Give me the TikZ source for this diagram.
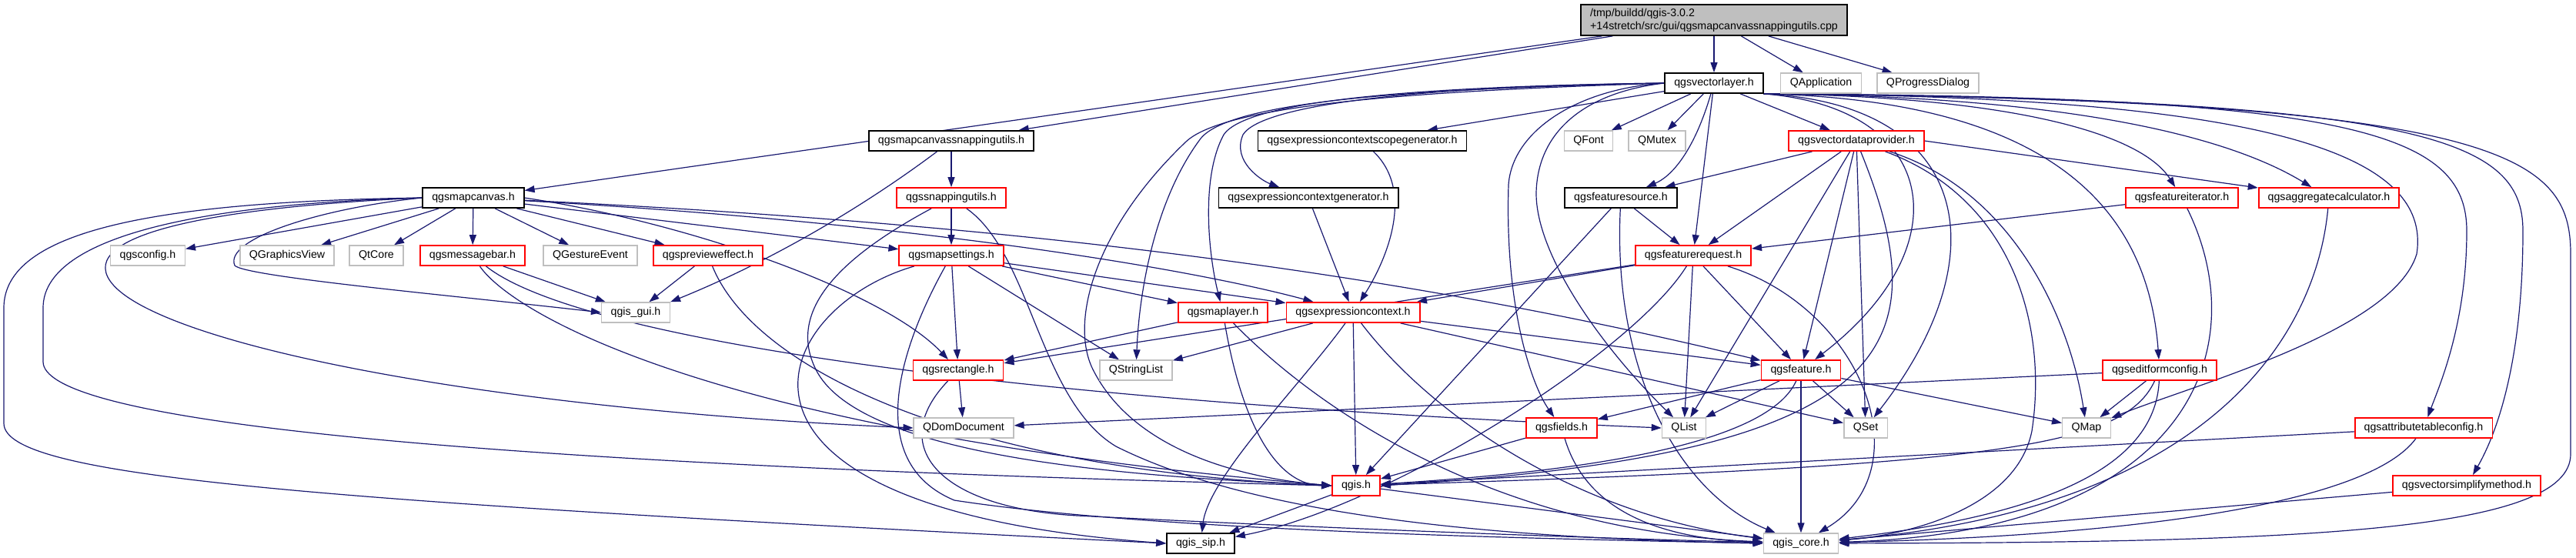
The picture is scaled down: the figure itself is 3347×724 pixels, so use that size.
\documentclass[tikz,border=0pt]{standalone}
\usepackage{fontspec}
\setmainfont{Liberation Sans}
\usetikzlibrary{arrows.meta,backgrounds}
\definecolor{edgeblue}{HTML}{191970}
\definecolor{boxgray}{HTML}{BFBFBF}
\definecolor{boxred}{HTML}{FF0000}

\begin{document}
\begin{tikzpicture}[x=0.5pt, y=-0.5pt,
  box/.style={rectangle, fill=white, minimum height=13pt, inner xsep=6pt, inner ysep=0pt, line width=0.9pt, font=\fontsize{7.1}{8.5}\selectfont},
  docbox/.style={box, draw=black},
  redbox/.style={box, draw=boxred},
  extbox/.style={box, draw=boxgray, line width=0.7pt},
  dep/.style={draw=edgeblue, line width=0.6pt, -{Triangle[length=6.5pt,width=4.5pt]}}]
  \useasboundingbox (0,0) rectangle (3347,724);

  \node[box, draw=black, fill=boxgray, align=left, minimum height=20pt] (root) at (2227,26) {/tmp/buildd/qgis-3.0.2\\+14stretch/src/gui/qgsmapcanvassnappingutils.cpp};

  \node[docbox] (vlayer) at (2227,108) {qgsvectorlayer.h};
  \node[extbox] (qapp) at (2366,108) {QApplication};
  \node[extbox] (qprog) at (2505,108) {QProgressDialog};

  \node[docbox] (mcsnap) at (1236,183) {qgsmapcanvassnappingutils.h};
  \node[docbox] (ecsgen) at (1770,183) {qgsexpressioncontextscopegenerator.h};
  \node[extbox] (qfont) at (2064,183) {QFont};
  \node[extbox] (qmutex) at (2153,183) {QMutex};
  \node[redbox] (vdp) at (2412,183) {qgsvectordataprovider.h};

  \node[docbox] (mcanvas) at (615,257) {qgsmapcanvas.h};
  \node[redbox] (snap) at (1236,257) {qgssnappingutils.h};
  \node[docbox] (ecgen) at (1700,257) {qgsexpressioncontextgenerator.h};
  \node[docbox] (fsource) at (2106,257) {qgsfeaturesource.h};
  \node[redbox] (fiter) at (2835,257) {qgsfeatureiterator.h};
  \node[redbox] (aggcalc) at (3026,257) {qgsaggregatecalculator.h};

  \node[extbox] (qgsconfig) at (192,332) {qgsconfig.h};
  \node[extbox] (qgview) at (373,332) {QGraphicsView};
  \node[extbox] (qtcore) at (489,332) {QtCore};
  \node[redbox] (msgbar) at (614,332) {qgsmessagebar.h};
  \node[extbox] (qgesture) at (767,332) {QGestureEvent};
  \node[redbox] (preview) at (920,332) {qgsprevieweffect.h};
  \node[redbox] (msettings) at (1236,332) {qgsmapsettings.h};
  \node[redbox] (freq) at (2200,332) {qgsfeaturerequest.h};

  \node[extbox] (gui) at (826,406) {qgis\_gui.h};
  \node[redbox] (mlayer) at (1589,406) {qgsmaplayer.h};
  \node[redbox] (expctx) at (1758,406) {qgsexpressioncontext.h};

  \node[redbox] (rect) at (1245,481) {qgsrectangle.h};
  \node[extbox] (qslist) at (1476,481) {QStringList};
  \node[redbox] (feature) at (2340,481) {qgsfeature.h};
  \node[redbox] (editform) at (2806,481) {qgseditformconfig.h};

  \node[extbox] (qdom) at (1252,556) {QDomDocument};
  \node[redbox] (fields) at (2029,556) {qgsfields.h};
  \node[extbox] (qlist) at (2188,556) {QList};
  \node[extbox] (qset) at (2424,556) {QSet};
  \node[extbox] (qmap) at (2711,556) {QMap};
  \node[redbox] (attrtab) at (3149,556) {qgsattributetableconfig.h};

  \node[redbox] (qgis) at (1762,631) {qgis.h};
  \node[redbox] (simplify) at (3205,631) {qgsvectorsimplifymethod.h};

  \node[docbox] (sip) at (1560,706) {qgis\_sip.h};
  \node[extbox] (core) at (2340,706) {qgis\_core.h};

  \begin{scope}[on background layer]
  \draw[dep] (root) -- (mcanvas);
  \draw[dep] (root) -- (mcsnap);
  \draw[dep] (root) -- (vlayer);
  \draw[dep] (root) -- (qapp);
  \draw[dep] (root) -- (qprog);

  \draw[dep] (mcsnap) -- (snap);
  \draw[dep] (mcsnap) .. controls (1120,270) and (1000,340) .. (gui.north east);

  \draw[dep] (mcanvas) -- (qgsconfig);
  \draw[dep] (mcanvas) -- (qgview);
  \draw[dep] (mcanvas) -- (qtcore);
  \draw[dep] (mcanvas) -- (msgbar);
  \draw[dep] (mcanvas) -- (qgesture);
  \draw[dep] (mcanvas) -- (preview);
  \draw[dep] (mcanvas) -- (msettings);
  \draw[dep] (mcanvas.west) .. controls (420,270) and (290,310) .. (305,345) .. controls (320,360) and (600,385) .. (gui.west);
  \draw[dep] (mcanvas.west) .. controls (300,268) and (110,300) .. (140,360) .. controls (180,440) and (600,530) .. (qdom.west);
  \draw[dep] (mcanvas.west) .. controls (250,265) and (56,310) .. (56,400) -- (56,470) .. controls (56,540) and (500,600) .. (qgis.west);
  \draw[dep] (mcanvas.west) .. controls (200,262) and (5,300) .. (5,400) -- (5,550) .. controls (5,620) and (400,650) .. (sip.west);
  \draw[dep] (mcanvas.east) .. controls (900,290) and (1150,380) .. (rect);
  \draw[dep] (mcanvas) .. controls (1200,290) and (1550,350) .. (expctx);
  \draw[dep] (mcanvas) .. controls (1300,290) and (1800,350) .. (feature);

  \draw[dep] (msgbar) -- (gui);
  \draw[dep] (msgbar) .. controls (750,440) and (1300,520) .. (qlist.west);
  \draw[dep] (msgbar) .. controls (660,400) and (900,560) .. (qgis.west);

  \draw[dep] (preview) -- (gui);
  \draw[dep] (preview) .. controls (980,480) and (1250,610) .. (qgis.west);

  \draw[dep] (snap) -- (msettings);
  \draw[dep] (snap) .. controls (1100,330) and (1020,400) .. (1060,480) .. controls (1120,600) and (1500,620) .. (qgis.west);
  \draw[dep] (snap) .. controls (1340,330) and (1350,520) .. (1450,580) .. controls (1650,680) and (2000,700) .. (core.west);

  \draw[dep] (msettings) -- (rect);
  \draw[dep] (msettings) -- (qslist);
  \draw[dep] (msettings) -- (mlayer);
  \draw[dep] (msettings) -- (expctx);
  \draw[dep] (msettings) .. controls (1000,400) and (880,660) .. (sip.west);
  \draw[dep] (msettings) .. controls (1170,450) and (1120,600) .. (1240,650) .. controls (1500,690) and (2000,700) .. (core.west);

  \draw[dep] (ecsgen) .. controls (1840,250) and (1800,340) .. (expctx);
  \draw[dep] (ecgen) -- (expctx);

  \draw[dep] (vlayer) -- (ecsgen);
  \draw[dep] (vlayer) -- (qfont);
  \draw[dep] (vlayer) -- (qmutex);
  \draw[dep] (vlayer) .. controls (2200,200) and (2170,230) .. (fsource);
  \draw[dep] (vlayer) -- (freq);
  \draw[dep] (vlayer) -- (vdp);
  \draw[dep] (vlayer.south east) .. controls (2600,125) and (2780,170) .. (fiter);
  \draw[dep] (vlayer.south east) .. controls (2700,125) and (2900,180) .. (aggcalc);
  \draw[dep] (vlayer.south east) .. controls (2950,125) and (3160,200) .. (3140,330) .. controls (3110,430) and (2850,500) .. (qmap);
  \draw[dep] (vlayer.south east) .. controls (3050,125) and (3205,170) .. (3205,300) .. controls (3205,420) and (3170,500) .. (attrtab);
  \draw[dep] (vlayer.south east) .. controls (3150,128) and (3278,180) .. (3278,300) .. controls (3278,480) and (3240,570) .. (simplify);
  \draw[dep] (vlayer.south east) .. controls (3250,130) and (3340,200) .. (3340,330) -- (3340,590) .. controls (3340,690) and (3000,705) .. (core);
  \draw[dep] (vlayer.south east) .. controls (2520,140) and (2550,320) .. (feature);
  \draw[dep] (vlayer.south east) .. controls (2560,135) and (2600,330) .. (qset);
  \draw[dep] (vlayer.south east) .. controls (2650,130) and (2790,260) .. (editform);
  \draw[dep] (vlayer.west) .. controls (1850,112) and (1640,135) .. (1615,175) .. controls (1600,210) and (1640,235) .. (ecgen);
  \draw[dep] (vlayer.west) .. controls (1850,112) and (1620,130) .. (1590,175) .. controls (1560,230) and (1570,330) .. (mlayer);
  \draw[dep] (vlayer.west) .. controls (1850,115) and (1600,130) .. (1560,180) .. controls (1500,260) and (1480,380) .. (qslist);
  \draw[dep] (vlayer.west) .. controls (1850,118) and (1590,135) .. (1540,185) .. controls (1420,300) and (1390,420) .. (1420,480) .. controls (1470,580) and (1600,620) .. (qgis.west);
  \draw[dep] (vlayer.west) .. controls (2050,115) and (1965,170) .. (1960,240) .. controls (1955,400) and (1990,500) .. (fields);
  \draw[dep] (vlayer.west) .. controls (2060,120) and (1998,170) .. (1996,250) .. controls (1995,330) and (2080,450) .. (qlist);

  \draw[dep] (vdp) -- (fsource);
  \draw[dep] (vdp) -- (freq);
  \draw[dep] (vdp) -- (qlist);
  \draw[dep] (vdp) -- (feature);
  \draw[dep] (vdp) -- (qset);
  \draw[dep] (vdp.east) -- (aggcalc);
  \draw[dep] (vdp) .. controls (2520,450) and (2470,590) .. (qgis.east);
  \draw[dep] (vdp) .. controls (2620,260) and (2660,430) .. (2640,560) .. controls (2620,660) and (2480,695) .. (core);
  \draw[dep] (vdp) .. controls (2620,250) and (2690,420) .. (qmap);

  \draw[dep] (fsource) -- (freq);
  \draw[dep] (fsource) -- (qgis);
  \draw[dep] (fsource) .. controls (2095,480) and (2180,640) .. (core);

  \draw[dep] (freq) -- (expctx);
  \draw[dep] (freq) -- (rect);
  \draw[dep] (freq) .. controls (2120,460) and (1800,660) .. (sip);
  \draw[dep] (freq) -- (qlist);
  \draw[dep] (freq) -- (feature);
  \draw[dep] (freq) .. controls (2420,400) and (2500,610) .. (core);

  \draw[dep] (fiter) -- (freq);
  \draw[dep] (fiter) .. controls (2930,450) and (2850,690) .. (core);
  \draw[dep] (aggcalc) .. controls (3010,430) and (2880,660) .. (core);

  \draw[dep] (mlayer) -- (rect);
  \draw[dep] (mlayer) .. controls (1610,530) and (1650,630) .. (qgis.west);
  \draw[dep] (mlayer) .. controls (1720,540) and (1950,690) .. (core);

  \draw[dep] (expctx) -- (qslist);
  \draw[dep] (expctx) .. controls (1690,500) and (1570,620) .. (sip);
  \draw[dep] (expctx) -- (qgis);
  \draw[dep] (expctx) .. controls (1860,540) and (2050,670) .. (core);
  \draw[dep] (expctx) -- (qset);
  \draw[dep] (expctx) -- (feature);

  \draw[dep] (rect) -- (qdom);
  \draw[dep] (rect) .. controls (1150,580) and (1220,660) .. (1400,670) .. controls (1800,690) and (2100,700) .. (core);

  \draw[dep] (feature) -- (fields);
  \draw[dep] (feature) -- (qlist);
  \draw[dep] (feature) -- (qset);
  \draw[dep] (feature) -- (qmap);
  \draw[dep] (feature) -- (core);
  \draw[dep] (feature) .. controls (2300,570) and (2100,610) .. (qgis);

  \draw[dep] (fields) -- (qgis);
  \draw[dep] (fields) .. controls (2060,660) and (2150,700) .. (core);

  \draw[dep] (editform) -- (qmap);
  \draw[dep] (editform) -- (qdom);
  \draw[dep] (editform) .. controls (2760,580) and (2600,605) .. (qgis);
  \draw[dep] (editform) .. controls (2800,610) and (2650,670) .. (core);

  \draw[dep] (attrtab) -- (qgis);
  \draw[dep] (attrtab) .. controls (3080,650) and (2800,695) .. (core);
  \draw[dep] (simplify) -- (core);

  \draw[dep] (qgis) -- (sip);
  \draw[dep] (qgis) -- (core);
  \end{scope}
\end{tikzpicture}
\end{document}
